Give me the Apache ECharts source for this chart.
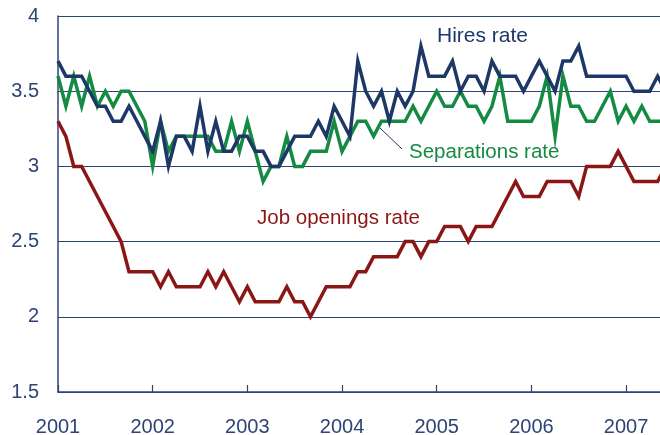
<!DOCTYPE html>
<html>
<head>
<meta charset="utf-8">
<script src="https://cdn.jsdelivr.net/npm/echarts@6/dist/echarts.min.js"></script>
<style>
  html, body { margin: 0; padding: 0; background: #fff; }
  #chart { width: 660px; height: 435px; }
</style>
</head>
<body>
<div id="chart"></div>
<script>
// months counted from January 2001, one value per month
var yearTicks = [0, 12, 24, 36, 48, 60, 72];
var yearLabels = ['2001', '2002', '2003', '2004', '2005', '2006', '2007'];

var hires = [
  3.7, 3.6, 3.6, 3.6, 3.5, 3.4, 3.4, 3.3, 3.3, 3.4, 3.3, 3.2,
  3.1, 3.3, 3.0, 3.2, 3.2, 3.1, 3.4, 3.1, 3.3, 3.1, 3.1, 3.2,
  3.2, 3.1, 3.1, 3.0, 3.0, 3.1, 3.2, 3.2, 3.2, 3.3, 3.2, 3.4,
  3.3, 3.2, 3.7, 3.5, 3.4, 3.5, 3.3, 3.5, 3.4, 3.5, 3.8, 3.6,
  3.6, 3.6, 3.7, 3.5, 3.6, 3.6, 3.5, 3.7, 3.6, 3.6, 3.6, 3.5,
  3.6, 3.7, 3.6, 3.5, 3.7, 3.7, 3.8, 3.6, 3.6, 3.6, 3.6, 3.6,
  3.6, 3.5, 3.5, 3.5, 3.6, 3.5
];
var separations = [
  3.6, 3.4, 3.6, 3.4, 3.6, 3.4, 3.5, 3.4, 3.5, 3.5, 3.4, 3.3,
  3.0, 3.3, 3.1, 3.2, 3.2, 3.2, 3.2, 3.2, 3.1, 3.1, 3.3, 3.1,
  3.3, 3.1, 2.9, 3.0, 3.0, 3.2, 3.0, 3.0, 3.1, 3.1, 3.1, 3.3,
  3.1, 3.2, 3.3, 3.3, 3.2, 3.3, 3.3, 3.3, 3.3, 3.4, 3.3, 3.4,
  3.5, 3.4, 3.4, 3.5, 3.4, 3.4, 3.3, 3.4, 3.6, 3.3, 3.3, 3.3,
  3.3, 3.4, 3.6, 3.2, 3.6, 3.4, 3.4, 3.3, 3.3, 3.4, 3.5, 3.3,
  3.4, 3.3, 3.4, 3.3, 3.3, 3.3
];
var openings = [
  3.3, 3.2, 3.0, 3.0, 2.9, 2.8, 2.7, 2.6, 2.5, 2.3, 2.3, 2.3,
  2.3, 2.2, 2.3, 2.2, 2.2, 2.2, 2.2, 2.3, 2.2, 2.3, 2.2, 2.1,
  2.2, 2.1, 2.1, 2.1, 2.1, 2.2, 2.1, 2.1, 2.0, 2.1, 2.2, 2.2,
  2.2, 2.2, 2.3, 2.3, 2.4, 2.4, 2.4, 2.4, 2.5, 2.5, 2.4, 2.5,
  2.5, 2.6, 2.6, 2.6, 2.5, 2.6, 2.6, 2.6, 2.7, 2.8, 2.9, 2.8,
  2.8, 2.8, 2.9, 2.9, 2.9, 2.9, 2.8, 3.0, 3.0, 3.0, 3.0, 3.1,
  3.0, 2.9, 2.9, 2.9, 2.9, 3.0
];

var navy = '#1d3767';
var green = '#148a42';
var red = '#8a1616';
var axisColor = '#2c4475';
var font = '"Liberation Sans", Arial, sans-serif';

function pairs(arr) {
  return arr.map(function (v, i) { return [i, v]; });
}

function lineSeries(name, values, color) {
  return {
    name: name,
    type: 'line',
    data: pairs(values),
    symbol: 'none',
    clip: true,
    animation: false,
    lineStyle: { color: color, width: 3.5, join: 'miter' }
  };
}

var chart = echarts.init(document.getElementById('chart'));
chart.setOption({
  backgroundColor: '#fff',
  animation: false,
  grid: { left: 58, right: 0, top: 16, bottom: 43, outerBoundsMode: 'none' },
  xAxis: {
    type: 'value',
    min: 0,
    max: 76.3,
    axisLine: { show: true, lineStyle: { color: axisColor, width: 1.5 } },
    axisTick: { show: true, inside: true, length: 7, customValues: yearTicks,
      lineStyle: { color: axisColor, width: 1.2 } },
    axisLabel: {
      customValues: yearTicks,
      formatter: function (v) { return yearLabels[yearTicks.indexOf(v)] || ''; },
      color: axisColor, fontSize: 20, fontFamily: font, margin: 25
    },
    splitLine: { show: false }
  },
  yAxis: {
    type: 'value',
    min: 1.5,
    max: 4,
    interval: 0.5,
    axisLine: { show: true, lineStyle: { color: axisColor, width: 1.5 } },
    axisTick: { show: false },
    axisLabel: { color: axisColor, fontSize: 20, fontFamily: font, margin: 19,
      padding: [5, 0, 0, 0] },
    splitLine: { show: true, lineStyle: { color: axisColor, width: 1.2 } }
  },
  series: [
    lineSeries('Job openings rate', openings, red),
    lineSeries('Separations rate', separations, green),
    lineSeries('Hires rate', hires, navy)
  ],
  graphic: [
    { type: 'text', left: 437, top: 26,
      style: { text: 'Hires rate', fill: navy, font: '21px ' + font } },
    { type: 'text', left: 409, top: 142,
      style: { text: 'Separations rate', fill: green, font: '20.5px ' + font } },
    { type: 'text', left: 257, top: 208,
      style: { text: 'Job openings rate', fill: red, font: '20.5px ' + font } },
    { type: 'line', shape: { x1: 380, y1: 128, x2: 402, y2: 149 },
      style: { stroke: navy, lineWidth: 1 } }
  ]
});
</script>
</body>
</html>
